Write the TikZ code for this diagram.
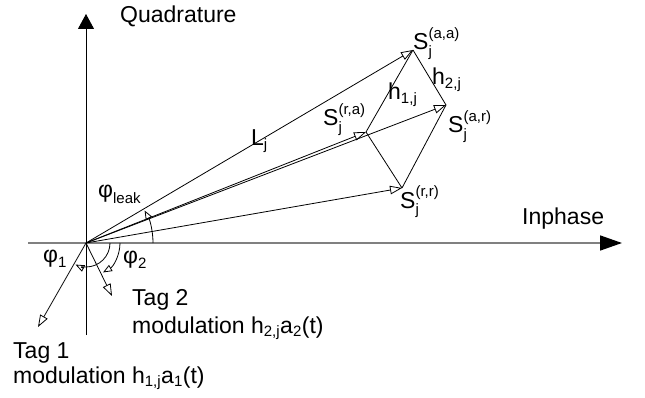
\documentclass[tikz,border=0pt]{standalone}
\usepackage{amsmath}
\usepackage{fontspec}
\setmainfont{Liberation Sans}
\DeclareMathSizes{23}{23}{15}{11}
\usetikzlibrary{arrows.meta}
\definecolor{axisgray}{RGB}{128,128,128}
\begin{document}
\begin{tikzpicture}[x=1pt,y=-1pt,
  font=\fontsize{23}{27.6}\selectfont,
  vec/.style={line width=0.8pt,-{Triangle[open,length=12pt,width=8.5pt]}},
  side/.style={line width=0.8pt},
  anglearc/.style={line width=0.8pt,-{Triangle[open,length=9pt,width=7pt]}},
  lbl/.style={inner sep=0pt,anchor=base west}]
\useasboundingbox (0,0) rectangle (645,398);
% points
\coordinate (O) at (86,243);
\coordinate (Xl) at (28,243);
\coordinate (Xr) at (622,243);
\coordinate (Yb) at (86,335);
\coordinate (Yt) at (86,14);
\coordinate (Saa) at (413,50);
\coordinate (Sra) at (366,132);
\coordinate (Sar) at (446,105);
\coordinate (Srr) at (402,188);
\coordinate (T1) at (38,327);
\coordinate (T2) at (112,296);
% axes
\draw[axisgray,line width=1.6pt,-{Triangle[length=22pt,width=15pt,color=black,fill=black]}] (Xl) -- (Xr);
\draw[line width=0.9pt,-{Triangle[length=15pt,width=16pt]}] (Yb) -- (Yt);
% vectors
\draw[vec] (O) -- (Saa);
\draw[vec] (O) -- (Sra);
\draw[vec] (O) -- (Sar);
\draw[vec] (O) -- (Srr);
\draw[vec] (O) -- (T1);
\draw[vec] (O) -- (T2);
% parallelogram
\draw[side] (Sra) -- (Saa);
\draw[side] (Saa) -- (Sar);
\draw[side] (Sra) -- (Srr);
\draw[side] (Srr) -- (Sar);
% angle arcs
\draw[anglearc] (O) ++(67,0) arc[start angle=0,end angle=-29,radius=67];
\draw[anglearc] (O) ++(24,0) arc[start angle=0,end angle=116,radius=24];
\draw[anglearc] (O) ++(34,0) arc[start angle=0,end angle=60,radius=34];
% labels
\node[lbl] (quad) at (120,23) {Quadrature};
\node[lbl] (inph) at (522,225) {Inphase};
\node[lbl] (Lj) at (251,146) {$\text{L}_{\text{j}}$};
\node[lbl] (phileak) at (98,198) {$\text{φ}_{\text{leak}}$};
\node[lbl] (phi1) at (43,262) {$\text{φ}_{\text{1}}$};
\node[lbl] (phi2) at (123,263) {$\text{φ}_{\text{2}}$};
\node[lbl] (tag2) at (132,305) {Tag 2};
\node[lbl] (mod2) at (132,333) {modulation h$_{\text{2,j}}$a$_{\text{2}}$(t)};
\node[lbl] (tag1) at (13,358) {Tag 1};
\node[lbl] (mod1) at (13,383) {modulation h$_{\text{1,j}}$a$_{\text{1}}$(t)};
\node[lbl] (lSaa) at (413,50) {$\text{S}_{\text{j}}^{\text{(a,a)}}$};
\node[lbl] (lSra) at (323,126) {$\text{S}_{\text{j}}^{\text{(r,a)}}$};
\node[lbl] (lSar) at (448,133) {$\text{S}_{\text{j}}^{\text{(a,r)}}$};
\node[lbl] (lSrr) at (400,208) {$\text{S}_{\text{j}}^{\text{(r,r)}}$};
\node[lbl] (h1) at (388,100) {h$_{\text{1,j}}$};
\node[lbl] (h2) at (432,85) {h$_{\text{2,j}}$};
\end{tikzpicture}
\end{document}
